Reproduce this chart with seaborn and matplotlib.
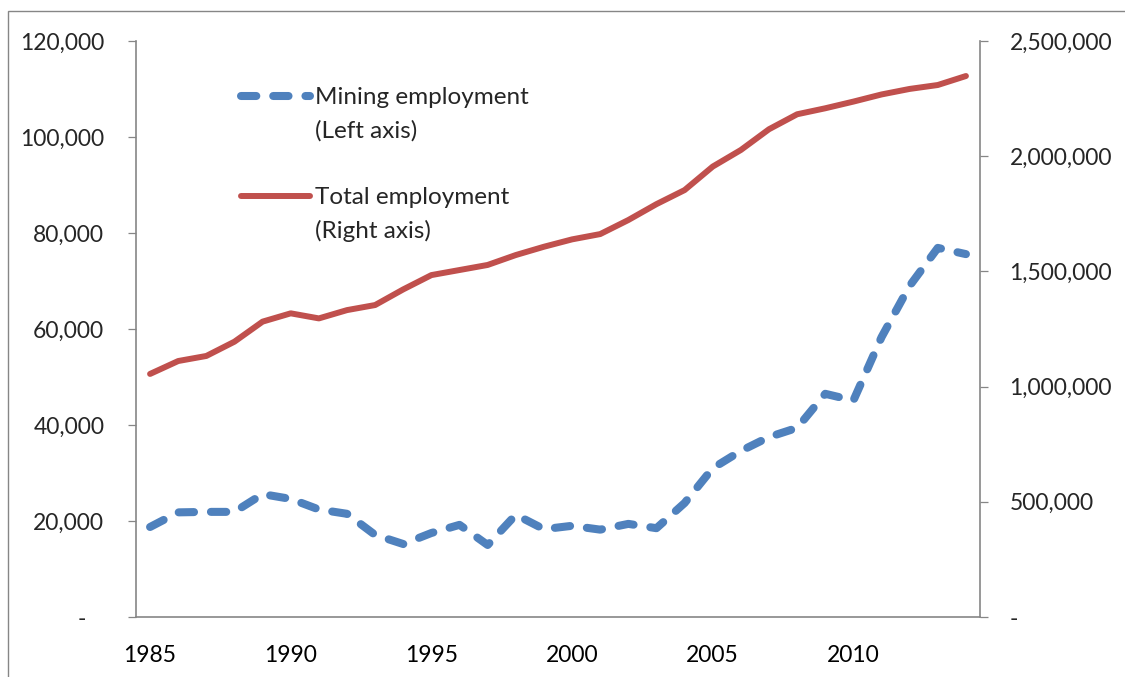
import numpy as np
import pandas as pd
import seaborn as sns
import matplotlib.pyplot as plt
from matplotlib.lines import Line2D
from matplotlib.patches import Rectangle
from matplotlib.ticker import FuncFormatter

# values
years = list(range(1985, 2015))
mining = [18750, 21800, 21900, 21900, 25600, 24600, 22400, 21500, 17100, 15200,
          17500, 19200, 15000, 21300, 18300, 19000, 18200, 19400, 18500, 23750,
          31000, 34600, 37500, 39400, 46500, 45100, 58300, 69000, 76900, 75600]
total = [1055000, 1111000, 1133000, 1195000, 1282000, 1318000, 1296000, 1332000,
         1354000, 1422000, 1484000, 1506000, 1528000, 1571000, 1607000, 1639000,
         1662000, 1723000, 1792000, 1853000, 1955000, 2027000, 2117000, 2182000,
         2208000, 2237000, 2268000, 2292000, 2309000, 2348000]
left_ticks = [0, 20000, 40000, 60000, 80000, 100000, 120000]
right_ticks = [0, 500000, 1000000, 1500000, 2000000, 2500000]
label_years = [1985, 1990, 1995, 2000, 2005, 2010]

df = pd.DataFrame({"year": years, "mining": mining, "total": total})

BLUE = "#4F81BD"
RED = "#C0504D"
GREY = "#868686"

sns.set_style("white")
plt.rcParams["font.family"] = ["Lato", "DejaVu Sans"]
plt.rcParams["font.size"] = 16.5

fig = plt.figure(figsize=(11.25, 6.77), dpi=100)
ax = fig.add_axes([136 / 1125, 1 - 617 / 677, 844 / 1125, 576 / 677])
ax2 = ax.twinx()

sns.lineplot(data=df, x="year", y="mining", ax=ax, color=BLUE, lw=5.8,
             dash_capstyle="round", solid_capstyle="round")
mline = ax.lines[-1]
mline.set_dashes((1.9, 2.1))

sns.lineplot(data=df, x="year", y="total", ax=ax2, color=RED, lw=4.3,
             solid_capstyle="round", solid_joinstyle="round")
tline = ax2.lines[-1]

ax.set_xlim(1984.5, 2014.5)
ax.set_ylim(0, 120000)
ax2.set_ylim(0, 2500000)
ax.set_xlabel("")
ax.set_ylabel("")
ax2.set_ylabel("")

ax.set_yticks(left_ticks)
ax2.set_yticks(right_ticks)
ax.yaxis.set_major_formatter(FuncFormatter(lambda v, p: f"{v:,.0f}" if v else "-   "))
ax2.yaxis.set_major_formatter(FuncFormatter(lambda v, p: f"{v:,.0f}" if v else "-"))

ax.set_xticks(label_years)
ax.set_xticks(np.arange(1984.5, 2015, 1), minor=True)
ax.tick_params(axis="x", which="major", length=0, pad=20, labelsize=16.5, colors="black")
ax.tick_params(axis="x", which="minor", length=5.8, width=0.9, color=GREY, direction="out")
ax.tick_params(axis="y", length=5.8, width=0.9, color=GREY, pad=17, labelsize=16.5,
               direction="out", left=True)
ax2.tick_params(axis="y", length=5.8, width=0.9, color=GREY, pad=15.5, labelsize=16.5,
                direction="out", right=True)

for a in (ax, ax2):
    a.spines["top"].set_visible(False)
    for s in a.spines.values():
        s.set_color(GREY)
        s.set_linewidth(1.2)
ax2.spines["left"].set_visible(False)
ax2.spines["bottom"].set_visible(False)
ax.spines["right"].set_visible(False)

# legend: two-line labels with the sample beside the first line
blank = Line2D([], [], color="none")
handles = [mline, blank, blank, tline, blank]
labels = ["Mining employment", "(Left axis)", " ", "Total employment", "(Right axis)"]
ax2.legend(handles, labels, loc="upper left", bbox_to_anchor=(0.1245, 0.920),
           frameon=False, fontsize=17.5, handlelength=2.85, handletextpad=0.2,
           borderpad=0, borderaxespad=0, labelspacing=0.5)

# outer chart border
fig.add_artist(Rectangle((8 / 1125, -0.1), 1.1, 1 - 11 / 677 + 0.1,
                         transform=fig.transFigure, fill=False,
                         edgecolor=GREY, lw=1.0))

fig.savefig("out.png", dpi=100)
